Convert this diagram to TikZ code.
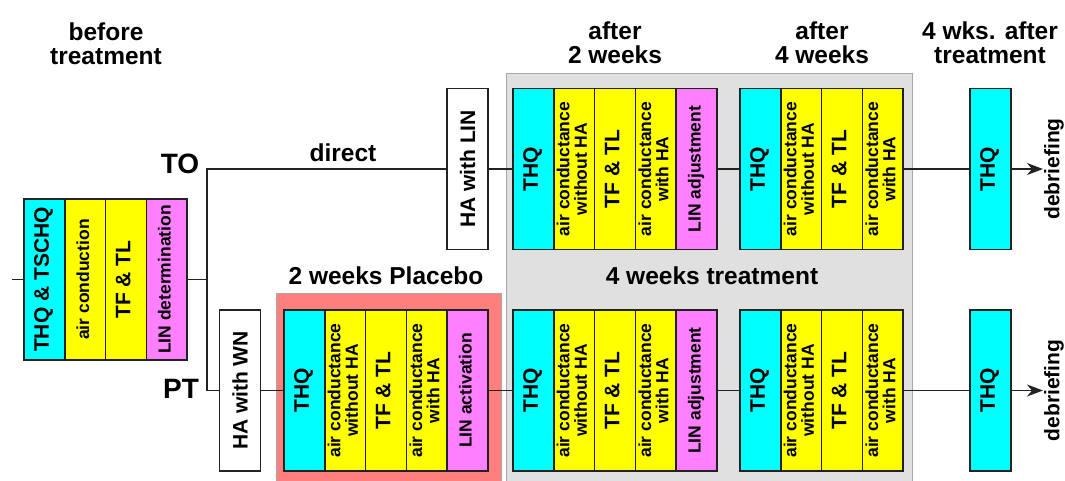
\documentclass[tikz,border=0pt]{standalone}
\usepackage{fontspec}
\setmainfont{Liberation Sans}
\usetikzlibrary{arrows.meta}
\definecolor{ccyan}{HTML}{00FFFF}
\definecolor{cyel}{HTML}{FFFF00}
\definecolor{cmag}{HTML}{FF80FF}
\definecolor{cred}{HTML}{FF7F7F}
\definecolor{cgray}{HTML}{E0E0E0}
\definecolor{cgrayline}{HTML}{A8A8A8}
\definecolor{cline}{HTML}{222222}
\newcommand{\rt}[1]{\rotatebox{90}{\begin{tabular}{@{}c@{}}#1\end{tabular}}}
\begin{document}
\begin{tikzpicture}[x=1pt,y=-1pt,
  col/.style={draw=cline, line width=1.6pt, minimum width=40.8pt, minimum height=161pt, inner sep=0pt, outer sep=0pt, anchor=west},
  big/.style={font=\bfseries\fontsize{21}{22}\selectfont},
  small/.style={font=\bfseries\fontsize{17.5}{16}\selectfont},
  thq/.style={col, fill=ccyan, big},
  ylw/.style={col, fill=cyel, small},
  ylwb/.style={col, fill=cyel, big},
  mag/.style={col, fill=cmag, small},
  habox/.style={draw=cline, line width=1.6pt, fill=white, minimum width=41pt, minimum height=161pt, inner sep=0pt, outer sep=0pt, big},
  head/.style={font=\bfseries\fontsize{24.5}{24}\selectfont, align=center, inner sep=0pt},
  lbl/.style={font=\bfseries\fontsize{28}{28}\selectfont, inner sep=0pt},
  deb/.style={font=\bfseries\fontsize{21}{21}\selectfont, inner sep=1pt, rotate=90},
  conn/.style={draw=cline, line width=1.4pt},
  arr/.style={conn, -{Stealth[length=16pt, width=12pt, inset=5pt]}},
]
\useasboundingbox (0,0) rectangle (1065,480);

% backgrounds
\filldraw[fill=cgray, draw=cgrayline, line width=1pt] (506,73) rectangle (912,483);
\filldraw[fill=cred, draw=cgrayline, line width=0.8pt] (276,293) rectangle (501,483);

% headers
\node[head] (h0) at (106,44) {before\\treatment};
\node[head] (h1) at (615,43) {after\\2 weeks};
\node[head] (h2) at (822,43) {after\\4 weeks};
\node[head] (h3) at (990,43) {4 wks. after\\treatment};
\node[head] (hp) at (386,276) {2 weeks Placebo};
\node[head] (ht) at (712,276) {4 weeks treatment};
\node[head] (dir) at (343,153) {direct};
\node[lbl] (to) at (180,164) {TO};
\node[lbl] (pt) at (181,389) {PT};

% before treatment group
\node[thq] (b1) at (24,279.5) {\rt{THQ \& TSCHQ}};
\node[ylw] (b2) at (b1.east) {\rt{air conduction}};
\node[ylwb] (b3) at (b2.east) {\rt{TF \& TL}};
\node[mag] (b4) at (b3.east) {\rt{LIN determination}};

% HA boxes
\node[habox] (halin) at (467.5,169) {\rotatebox{90}{HA with LIN}};
\node[habox] (hawn) at (240,390.5) {\rotatebox{90}{HA with WN}};

% top row
\node[thq] (t1) at (513,169) {\rt{THQ}};
\node[ylw] (t2) at (t1.east) {\rt{air conductance\\without HA}};
\node[ylwb] (t3) at (t2.east) {\rt{TF \& TL}};
\node[ylw] (t4) at (t3.east) {\rt{air conductance\\with HA}};
\node[mag] (t5) at (t4.east) {\rt{LIN adjustment}};

\node[thq] (u1) at (740,169) {\rt{THQ}};
\node[ylw] (u2) at (u1.east) {\rt{air conductance\\without HA}};
\node[ylwb] (u3) at (u2.east) {\rt{TF \& TL}};
\node[ylw] (u4) at (u3.east) {\rt{air conductance\\with HA}};

\node[thq] (tq) at (970,169) {\rt{THQ}};
\node[deb] (dt) at (1054,169) {debriefing};

% bottom row
\node[thq] (p1) at (284,390.5) {\rt{THQ}};
\node[ylw] (p2) at (p1.east) {\rt{air conductance\\without HA}};
\node[ylwb] (p3) at (p2.east) {\rt{TF \& TL}};
\node[ylw] (p4) at (p3.east) {\rt{air conductance\\with HA}};
\node[mag] (p5) at (p4.east) {\rt{LIN activation}};

\node[thq] (v1) at (513,390.5) {\rt{THQ}};
\node[ylw] (v2) at (v1.east) {\rt{air conductance\\without HA}};
\node[ylwb] (v3) at (v2.east) {\rt{TF \& TL}};
\node[ylw] (v4) at (v3.east) {\rt{air conductance\\with HA}};
\node[mag] (v5) at (v4.east) {\rt{LIN adjustment}};

\node[thq] (w1) at (740,390.5) {\rt{THQ}};
\node[ylw] (w2) at (w1.east) {\rt{air conductance\\without HA}};
\node[ylwb] (w3) at (w2.east) {\rt{TF \& TL}};
\node[ylw] (w4) at (w3.east) {\rt{air conductance\\with HA}};

\node[thq] (bq) at (970,390.5) {\rt{THQ}};
\node[deb] (db) at (1054,390.5) {debriefing};

% connectors
\coordinate (in) at (12,279.5);
\coordinate (sp) at (207,279.5);
\draw[conn] (in) -- (b1.west);
\draw[conn] (b4.east) -- (sp);
\draw[conn] (sp) |- (halin.west);
\draw[conn] (sp) |- (hawn.west);
\draw[conn] (halin.east) -- (t1.west);
\draw[conn] (t5.east) -- (u1.west);
\draw[conn] (u4.east) -- (tq.west);
\draw[arr] (tq.east) -- (dt.north);
\draw[conn] (hawn.east) -- (p1.west);
\draw[conn] (p5.east) -- (v1.west);
\draw[conn] (v5.east) -- (w1.west);
\draw[conn] (w4.east) -- (bq.west);
\draw[arr] (bq.east) -- (db.north);
\end{tikzpicture}
\end{document}
